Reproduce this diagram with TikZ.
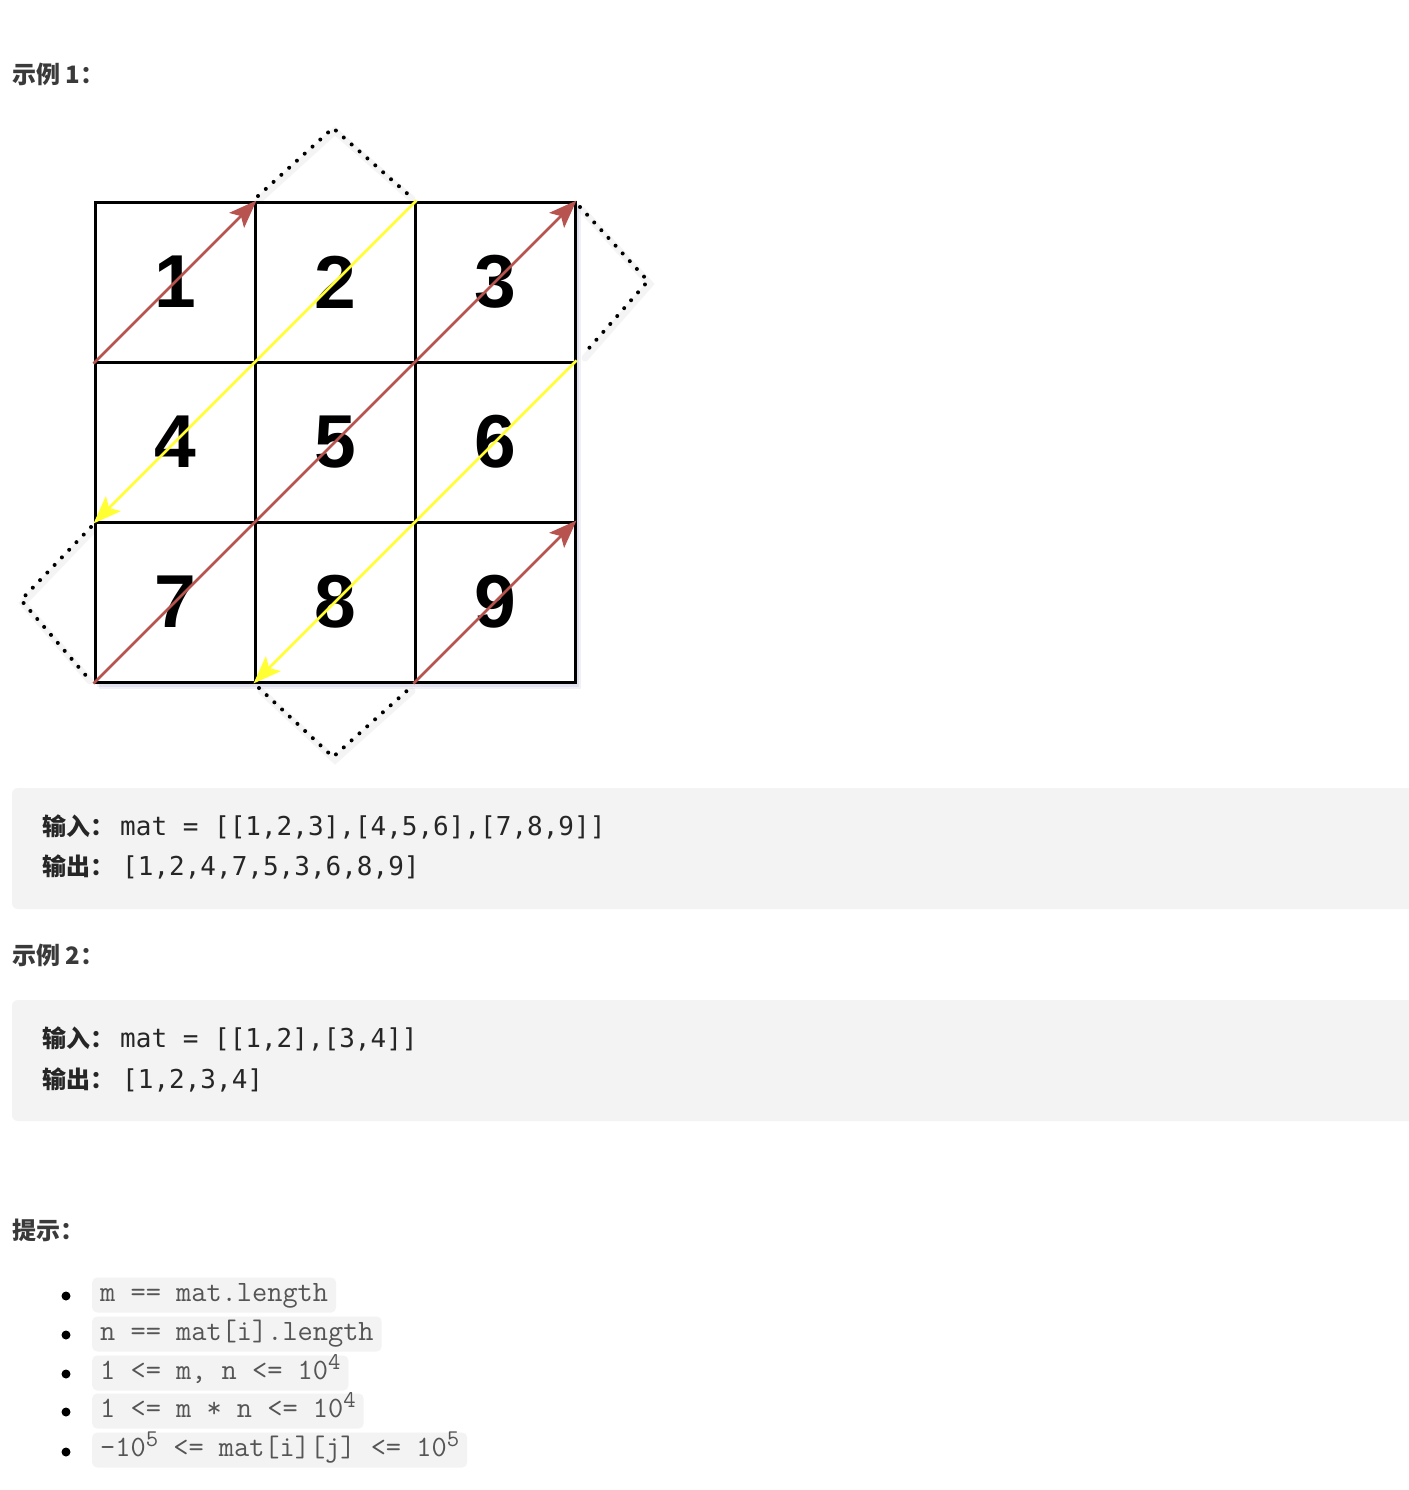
\documentclass[tikz,border=0pt]{standalone}
\usepackage{fontspec}
\setmainfont{Liberation Sans}
\newfontfamily\cjk{Noto Sans CJK SC}
\newfontfamily\codemono{DejaVu Sans Mono}
\newfontfamily\cour{Latin Modern Mono}
\usetikzlibrary{arrows.meta}
\definecolor{brownarr}{HTML}{B85450}
\definecolor{yellowarr}{HTML}{FFFF33}
\definecolor{codebg}{HTML}{F3F3F3}
\definecolor{headtxt}{HTML}{3A3A3A}
\definecolor{hinttxt}{HTML}{555555}
\tikzset{
  cell/.style={draw=black, fill=white, line width=3pt, minimum size=160pt, inner sep=0pt,
    font=\fontsize{75}{75}\selectfont\bfseries},
  brownline/.style={draw=brownarr, line width=2.6pt,
    -{Stealth[length=28pt, width=21pt, inset=6pt]}},
  yellowline/.style={draw=yellowarr, line width=2.6pt,
    -{Stealth[length=28pt, width=21pt, inset=6pt]}},
  dotline/.style={line width=4pt, line cap=round, dash pattern=on 0.01pt off 10.5pt},
  dotshadow/.style={line width=7pt, line cap=round, draw=black!8},
  heading/.style={anchor=west, inner sep=0pt, text=headtxt,
    font=\fontsize{24}{28}\selectfont\cjk\bfseries},
  codebox/.style={fill=codebg, rounded corners=6pt, draw=none},
  cjklabel/.style={anchor=base west, inner sep=0pt, text=black!85,
    font=\fontsize{24}{28}\selectfont\cjk\bfseries},
  codetxt/.style={anchor=base west, inner sep=0pt, text=black!85,
    font=\fontsize{26}{28}\selectfont\codemono},
  hint/.style={anchor=west, fill=codebg, rounded corners=5pt, inner xsep=8pt, inner ysep=0pt,
    minimum height=35pt, text height=19pt, text depth=6pt, text=hinttxt,
    font=\fontsize{29.5}{30}\selectfont\cour},
  bulletdot/.style={circle, fill=black, inner sep=0pt, minimum size=9pt},
}
\newcommand{\supn}[1]{\raisebox{10pt}{\fontsize{24}{24}\selectfont #1}}
\begin{document}
\begin{tikzpicture}[x=1pt, y=-1pt]
\useasboundingbox (0,0) rectangle (1408,1490);
\fill[white] (0,0) rectangle (1408,1490);

% heading 1
\node[heading] (h1) at (12,74) {示例 1：};

% dotted outline coordinates
\coordinate (t1) at (258,196); \coordinate (t2) at (333,128); \coordinate (t3) at (410,196);
\coordinate (r1) at (580,207); \coordinate (r2) at (648,281); \coordinate (r3) at (583,355);
\coordinate (l1) at (91,527);  \coordinate (l2) at (21,600);  \coordinate (l3) at (88,678);
\coordinate (b1) at (259,688); \coordinate (b2) at (333,757); \coordinate (b3) at (410,688);

% dotted shadows
\foreach \a/\b/\c in {t1/t2/t3, r1/r2/r3, l1/l2/l3, b1/b2/b3}{
  \draw[dotshadow, opacity=0.5] ([shift={(2,3)}]\a) -- ([shift={(2,3)}]\b) -- ([shift={(2,3)}]\c);
}
% dotted outlines
\draw[dotline] (t1) -- (t2) -- (t3);
\draw[dotline] (r1) -- (r2) -- (r3);
\draw[dotline] (l1) -- (l2) -- (l3);
\draw[dotline] (b1) -- (b2) -- (b3);

% grid shadow
\fill[blue!40!black, opacity=0.06] (99,206) rectangle (581,689);
\fill[blue!40!black, opacity=0.06] (97,204) rectangle (579,687);

% grid cells
\node[cell] (c11) at (175,282) {1};
\node[cell] (c12) at (335,282) {2};
\node[cell] (c13) at (495,282) {3};
\node[cell] (c21) at (175,442) {4};
\node[cell] (c22) at (335,442) {5};
\node[cell] (c23) at (495,442) {6};
\node[cell] (c31) at (175,602) {7};
\node[cell] (c32) at (335,602) {8};
\node[cell] (c33) at (495,602) {9};

% zigzag arrows
\draw[brownline] (c11.south west) -- (c11.north east);
\draw[yellowline] (c12.north east) -- (c21.south west);
\draw[brownline] (c31.south west) -- (c13.north east);
\draw[yellowline] (c23.north east) -- (c32.south west);
\draw[brownline] (c33.south west) -- (c33.north east);

% code block 1
\fill[codebox] (12,788) rectangle (1420,909);
\node[cjklabel] (in1) at (42,835) {输入：};
\node[codetxt] (in1c) at (120,835) {mat = [[1,2,3],[4,5,6],[7,8,9]]};
\node[cjklabel] (out1) at (42,875) {输出：};
\node[codetxt] (out1c) at (122,875) {[1,2,4,7,5,3,6,8,9]};

% heading 2
\node[heading] (h2) at (12,955) {示例 2：};

% code block 2
\fill[codebox] (12,1000) rectangle (1420,1121);
\node[cjklabel] (in2) at (42,1047) {输入：};
\node[codetxt] (in2c) at (120,1047) {mat = [[1,2],[3,4]]};
\node[cjklabel] (out2) at (42,1088) {输出：};
\node[codetxt] (out2c) at (122,1088) {[1,2,3,4]};

% hints
\node[heading] (h3) at (12,1230) {提示：};

\node[bulletdot] (d1) at (66,1296) {};
\node[bulletdot] (d2) at (66,1335) {};
\node[bulletdot] (d3) at (66,1374) {};
\node[bulletdot] (d4) at (66,1412) {};
\node[bulletdot] (d5) at (66,1452) {};

\node[hint] (k1) at (92,1295) {m == mat.length};
\node[hint] (k2) at (92,1334) {n == mat[i].length};
\node[hint] (k3) at (92,1373) {1 <= m, n <= 10\supn{4}};
\node[hint] (k4) at (92,1411) {1 <= m * n <= 10\supn{4}};
\node[hint] (k5) at (92,1450) {-10\supn{5} <= mat[i][j] <= 10\supn{5}};
\end{tikzpicture}
\end{document}
